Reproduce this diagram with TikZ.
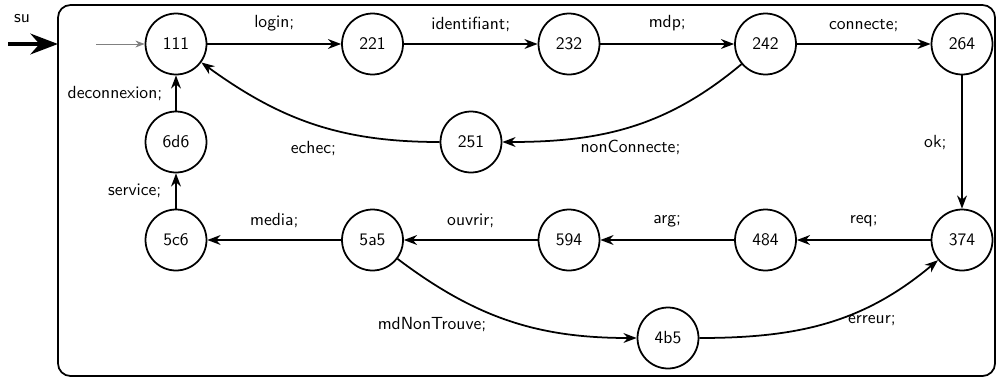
\documentclass[tikz,border=0pt]{standalone}
\usetikzlibrary{arrows.meta}
\begin{document}
\begin{tikzpicture}[x=0.02cm, y=-0.02cm, >=Stealth, font=\sffamily, st/.style={draw, circle, line width=1pt, minimum size=1.22cm, inner sep=0pt}, tr/.style={->, line width=1pt}, entry/.style={->, line width=2.8pt}, init/.style={->, gray, line width=0.5pt}]
\useasboundingbox (0,0) rectangle (997,379);
\draw[line width=1pt, rounded corners=0.25cm] (58,5) rectangle (995,376);
\node (sulab) at (22,19) {su};
\coordinate (suin) at (8,44);
\coordinate (frameW) at (58,44);
\draw[entry] (suin) -- (frameW);
\coordinate (start) at (96,44);
\node[st] (n111) at (176,44) {111};
\node[st] (n221) at (372.5,44) {221};
\node[st] (n232) at (569,44) {232};
\node[st] (n242) at (765.5,44) {242};
\node[st] (n264) at (962,44) {264};
\node[st] (n6d6) at (176,142) {6d6};
\node[st] (n251) at (471,142) {251};
\node[st] (n5c6) at (176,240) {5c6};
\node[st] (n5a5) at (372.5,240) {5a5};
\node[st] (n594) at (569,240) {594};
\node[st] (n484) at (765.5,240) {484};
\node[st] (n374) at (962,240) {374};
\node[st] (n4b5) at (668,338) {4b5};
\draw[init] (start) -- (n111);
\draw[tr] (n111) -- node[above=3.4pt] {login;} (n221);
\draw[tr] (n221) -- node[above=3.4pt] {identifiant;} (n232);
\draw[tr] (n232) -- node[above=3.4pt] {mdp;} (n242);
\draw[tr] (n242) -- node[above=3.4pt] {connecte;} (n264);
\draw[tr] (n264) -- node[left=5pt] {ok;} (n374);
\draw[tr] (n242) to[out=-140, in=0] node[pos=0.5, below=3.7pt] {nonConnecte;} (n251);
\draw[tr] (n251) to[out=180, in=-36] node[pos=0.5, below=6pt] {echec;} (n111);
\draw[tr] (n6d6) -- node[left=4pt] {deconnexion;} (n111);
\draw[tr] (n5c6) -- node[left=4.5pt] {service;} (n6d6);
\draw[tr] (n374) -- node[above=3.4pt] {req;} (n484);
\draw[tr] (n484) -- node[above=3.4pt] {arg;} (n594);
\draw[tr] (n594) -- node[above=3.4pt] {ouvrir;} (n5a5);
\draw[tr] (n5a5) -- node[above=3.4pt] {media;} (n5c6);
\draw[tr] (n5a5) to[out=-37, in=180] node[pos=0.15, below=15.5pt] {mdNonTrouve;} (n4b5);
\draw[tr] (n4b5) to[out=0, in=-140] node[pos=0.7, below=2pt] {erreur;} (n374);
\end{tikzpicture}
\end{document}
